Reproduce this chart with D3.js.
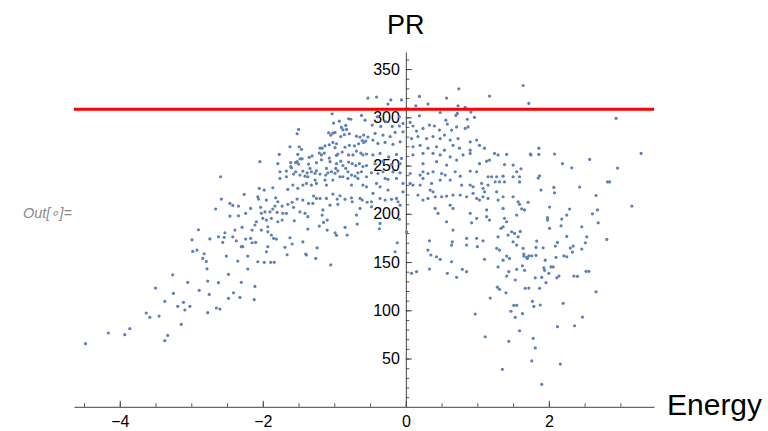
<!DOCTYPE html>
<html><head><meta charset="utf-8">
<script src="https://cdn.jsdelivr.net/npm/d3@7"></script>
<style>body{margin:0;background:#fff}svg{display:block}</style>
</head><body><svg id="c" width="768" height="431"></svg>
<script>
const energy = [
-0.53,-1.03,-0.93,-0.80,-0.77,-0.62,-0.57,-1.50,-1.52,-1.01,-0.90,-0.84,-0.88,-0.83,-1.08,-1.05,-1.02,-0.99,-0.91,-0.86,
-0.79,-0.69,-0.64,-0.59,-0.53,-1.07,-1.02,-0.97,-0.85,-0.79,-0.72,-0.66,-0.61,-0.59,-0.56,-1.62,-1.49,-1.46,-1.20,-1.17,
-1.13,-0.99,-1.77,-1.51,-1.48,-1.45,-1.35,-1.31,-1.21,-1.18,-1.14,-1.07,-0.97,-0.95,-0.89,-0.80,-0.74,-0.69,-0.63,-0.60,
-0.55,-2.04,-1.79,-1.61,-1.54,-1.52,-1.61,-1.50,-1.36,-1.25,-1.18,-1.06,-0.97,-0.91,-0.88,-0.80,-0.75,-0.70,-0.65,-0.60,
-0.55,-1.60,-1.34,-1.11,-0.98,-0.84,
-0.41,-0.25,-0.21,-0.06,0.19,0.31,0.14,0.57,0.74,0.73,0.83,1.17,0.19,0.48,0.56,0.58,0.70,0.72,0.91,0.96,
0.86,-0.40,-0.28,-0.09,-0.04,-0.47,-0.35,-0.19,-0.09,0.06,0.10,0.15,0.24,0.33,0.40,0.47,0.54,0.64,0.71,0.83,
0.87,-0.43,-0.32,-0.22,-0.15,-0.04,-0.46,-0.39,-0.29,-0.18,-0.08,0.08,0.17,0.29,0.38,0.48,0.62,0.73,0.90,0.99,
0.10,0.20,0.31,0.43,0.54,0.66,0.75,0.90,1.03,1.10,0.10,0.24,0.38,0.48,0.62,0.80,0.90,0.24,0.43,0.57,
0.71,1.03,1.13,1.17,1.24,1.29,1.41,1.38,1.50,-0.46,-0.36,-0.24,-0.13,-0.06,-0.43,-0.32,-0.20,-0.08,
1.64,1.72,2.94,1.86,1.74,1.75,1.86,2.08,2.19,2.32,2.57,3.29,2.96,1.61,
1.87,1.85,1.59,1.59,2.07,2.08,2.43,2.82,2.85,1.89,2.66,1.71,1.59,1.62,1.66,2.01,2.29,3.16,2.68,2.61,
2.25,1.98,1.98,2.18,2.69,2.17,2.01,2.46,1.60,2.25,2.53,2.81,1.83,2.12,2.51,2.09,2.34,1.64,1.82,1.92,
2.30,2.46,2.33,1.65,1.65,1.69,1.70,1.72,1.76,1.82,2.21,2.25,2.10,1.95,1.63,2.03,2.06,1.93,1.94,1.66,
2.00,2.14,2.11,2.35,2.40,2.52,2.56,1.81,1.90,1.96,
1.67,1.72,1.87,2.66,1.77,1.79,1.88,2.20,1.63,2.47,1.59,2.12,2.36,1.78,1.81,1.76,2.16,1.90,
1.28,1.31,1.40,1.18,1.51,1.55,1.47,0.97,1.53,1.11,1.44,1.35,
-2.11,-2.41,-2.48,-2.32,-2.12,-2.60,
-3.50,-3.25,-2.89,-2.75,-3.37,-3.11,-3.19,-3.02,-3.09,-3.63,-3.58,-3.45,-2.77,-2.65,-3.14,-3.86,-4.16,-3.93,-3.33,-3.37,-4.48,
-2.66,-2.90,-2.62,-2.99,-2.74,-2.92,-2.98,-2.82,-2.84,-2.79,-2.78,-3.26,-3.05,-2.77,-2.62,
-1.76,-1.67,-1.57,-1.54,-1.48,-1.44,-1.41,-1.38,-1.37,-1.32,-1.27,-1.25,-1.20,-1.12,-1.09,-1.04,-0.99,-0.95,-0.88,-0.81,
-0.76,-0.71,-0.67,-0.62,-0.55,-2.59,-1.76,-1.67,-1.58,-1.51,-1.44,-1.39,-1.32,-1.27,-1.25,-1.13,-1.11,-1.02,-0.92,-0.81,
-0.76,-0.67,-0.60,-0.55,-2.05,-1.98,-1.86,-1.65,-2.26,-2.07,-2.06,-1.82,-1.52,-1.44,-1.36,-1.30,-1.29,-1.25,-1.20,-1.11,
-1.02,-0.96,-0.92,-0.85,-0.76,-0.75,-0.64,-0.61,-0.54,-2.58,-2.46,-2.42,-2.34,-2.17,-2.24,-2.03,-1.95,-1.83,-1.79,-1.73,
-1.65,-1.59,-1.57,-1.48,-1.41,-1.37,-1.16,-1.17,-1.10,-1.06,-0.95,-0.69,-0.68,-0.64,-2.02,-1.97,-1.90,-1.86,-1.80,-1.72,
-1.67,-2.46,-2.34,-2.09,-2.11,-2.00,-1.95,-1.88,-1.79,-1.73,-1.56,-1.37,-1.21,-1.15,-1.10,-0.99,-0.97,-0.85,-0.82,-2.53,
-2.54,-2.56,-2.39,-2.29,-2.15,-2.42,-2.37,-2.24,-2.17,-2.15,-2.10,-2.02,-1.93,-1.93,-1.88,-1.85,-1.81,-1.62,-1.44,-1.59,
-1.69,-1.93,-1.95,-2.30,-2.28,-1.24,-2.51,-2.35,-2.21,-2.21,-2.07,-1.98,-1.89,-1.84,-1.66,-1.40,-1.39,-1.26,-1.05,-2.48,
-2.30,
-0.48,-0.39,-0.32,-0.18,-0.08,0.06,0.20,0.24,0.31,0.38,0.50,0.55,0.69,0.76,0.90,0.99,1.15,1.20,1.27,1.36,
1.50,1.55,-0.41,-0.36,-0.29,-0.25,-0.13,-0.04,0.06,0.10,0.20,0.24,0.36,0.34,0.38,0.48,0.62,0.78,0.90,0.94,
1.06,1.08,1.15,1.25,1.31,1.38,-0.46,-0.25,-0.04,0.17,0.24,0.31,0.41,0.50,0.57,0.66,0.76,0.85,0.94,0.99,
1.03,1.08,1.10,1.27,1.15,1.29,1.36,1.50,1.57,-0.36,-0.13,-0.08,-0.48,0.41,0.45,0.62,0.66,0.90,0.92,0.99,
1.13,1.13,1.17,1.36,1.38,1.41,1.55,0.57,0.66,0.65,0.64,0.33,0.31,0.35,0.43,0.48,0.64,0.85,0.85,0.99,
1.00,1.08,1.29,1.33,1.36,1.43,1.48,1.50,1.52,1.55,1.57,1.27,1.31,1.10,1.36,1.41,1.45,1.29,1.44,1.41,
1.55,1.53,-0.29,-0.20,-0.11,-0.48,-0.09,-0.36,-0.37,-0.15,-0.12,0.01,0.08,0.15,0.33,0.58,0.71,0.79,0.85
];
const pr = [
320,303.6,296,298.5,298,302,297,287.5,283,294,289.5,291.6,287,287.5,284,281.5,283.6,284.4,280,282,
283,280.5,279.5,281.6,279.5,271.5,274,272.6,269,271,270.5,272.6,276,274,275.4,269.5,269.5,266.8,268,268,
270.5,268.5,261.6,261.6,257,257,258.5,260,263,261,263,257.8,260.5,262,264,261,261,265,263,261,
262,254,252,253,253,254,249,251.5,251.5,253,256,254,252,254.6,250,253.6,252,250,252,249,
250,247.7,247,247,247,247,
321,313.7,318,318,321.7,313.7,312,320,329.5,312,310.3,322,301.6,305,297,293,302,304,305.4,300,
298,300.5,295.4,300.5,293.7,292,290.6,290.6,291,294.7,291,285.7,288.5,292,291,286.8,281.6,286.8,290,288.5,
290,283.3,281.6,280,284.4,285,276.4,273,274,272,274.6,278,280,278,280,278,276.4,278,274.6,276.4,
269.5,271,268,269.5,266,271,268,266,271,268,261,262.6,262.6,261,259,261,262.6,252,254,250.5,
255.7,252,254.6,255.7,262.6,261,261.6,251,250.5,261,262.6,259,261.6,257.4,252,254,251,252,
333,314.4,299,268,262,261,261.6,262,252,247.7,256.4,262.6,247.4,246.7,
239.4,237,238.4,233,227.4,221.8,227.7,233,233,224.6,219,212,209.8,205.2,204,207,205,208,204,200,
198.7,196,193.5,194.6,190.7,187.6,185,186.6,181.8,176.6,176.2,173.5,171.8,170.4,170,166.6,166.6,164.2,165.2,164.8,
164.5,163.5,160.4,158.3,156.2,154.9,153.8,156.5,156.5,157,156.5,155.5,154.9,152,146.2,145,145,144,141.4,141.4,
138.3,135.5,133.7,135.5,135.2,140.4,140.4,133.7,134.2,128.6,
122.8,123,122.8,119.2,109.3,104,105.5,107.2,96.5,93,78.8,83,84,71,61,47.5,44.3,23.3,
124,121.7,118.2,112.7,105.2,105.2,99,96.1,92.7,72.6,67.9,38.8,
124.8,118.2,112.4,113.4,111,101.3,
123,117.6,120.7,116.5,109.3,108.3,104.1,104.1,100.3,97.2,92.7,94,97.5,102.4,85.5,81,76.5,74.7,74,68.5,65.4,
205,183.5,176.2,173,174,162.4,161,158.6,153.8,150.7,143,136.8,129,130.3,128.6,
243.6,244.3,241.2,243.6,240.2,244.3,239,242.5,238.4,243.6,242,244.6,241.2,240.2,242.5,243.6,242,244.6,238.4,243.6,
240.2,239,242.5,243.6,238.4,238.4,236.7,238.4,229.8,226.4,229.8,231.5,229.8,235,231.5,235,229.8,235,238.4,236.7,
229.8,236.7,229.8,228,226.4,224.6,227,225.3,220.2,217.7,215.3,216.6,215.3,214.2,210.8,210.8,218.4,216,216,216,
220.5,215.3,218.7,215,216.6,212.5,216,214.2,212,215.3,210.8,208.7,208,205.6,200.5,206.7,214.2,208,212.5,208,
209.8,212,206.7,202,200.5,197,204,198.7,193.5,209,209.8,198.7,189.4,205.6,200.5,202,202,205,201.5,200.5,
200.5,197.7,198,191.8,188.4,195.3,193.5,195.3,191.8,193.5,192.8,184.2,187.3,191.1,183.2,180.4,177.7,186,178,180.4,
175.6,170.4,183.2,186,183.2,176.2,172,173.8,174.6,170,170.4,183.2,181.4,186.6,178,174.6,173.8,175.2,171,168.7,
165.3,165.9,160.7,165.9,165.9,164.8,156.2,151,156.2,142.8,150.3,149.7,149.7,149.7,157.6,158.3,157.3,153.8,147,137.3,
129,
242.5,241.8,243.6,243.6,242.5,241.8,240.2,243.6,241.8,243.6,241.8,240.2,243.6,239,244.3,243.6,238.4,238.4,238.4,239,
238.4,243.6,231.5,228,236.7,235.7,236.7,231.5,231.5,229.8,229.8,236.7,231.5,224.6,222.8,235,235,229.8,229.8,228,
231.5,226.4,229.8,233.2,233.2,233.2,221.2,224.6,222.8,219.4,214.2,216,217.7,217.7,218.4,219.4,219.4,217.7,221.2,216,
214.2,217.7,222.8,222.8,216,214.2,217.7,217.7,212.5,216,216,209,212.5,205.6,200.5,209,205.6,200.5,190.7,195.3,
204,197,193.5,205.6,195.3,191.8,198.7,191.8,183.2,171,167.6,172,162.4,157.3,155.5,152.8,150.3,174.6,167.6,174.6,
165.9,172,176.2,185,186.6,178,181.4,171,179.7,167.6,176.2,164.2,162.4,152.8,152,156.2,153.8,145,140,135.5,
142.5,131.4,214.2,215,212.5,207.3,194.3,190,184.5,160.7,170,181.4,138.3,140,142.8,138.3,134.2,142.5,140
];
const xTicks = [-4,-2,0,2];
const yTicks = [50,100,150,200,250,300,350];
const threshold = [308.3];
const xLabel = "Energy", yLabel = "PR", outLabel = "Out[\u2218]=";

const svg = d3.select("#c");
const x = d3.scaleLinear().domain([-4.64,3.47]).range([74,654]);
const y = d3.scaleLinear().domain([0,367.7]).range([406.8,52]);
const font = "'Liberation Sans', Arial, sans-serif";

// minor ticks
svg.append("g").attr("transform",`translate(0,${y(0)})`)
  .call(d3.axisBottom(x).tickValues(d3.range(-4.5,3.5,0.5)).tickSize(-3.5).tickSizeOuter(0).tickFormat(""))
  .call(g=>{g.select(".domain").remove();g.selectAll("line").attr("stroke","#555");});
svg.append("g").attr("transform",`translate(${x(0)},0)`)
  .call(d3.axisLeft(y).tickValues(d3.range(10,370,10)).tickSize(-3.5).tickSizeOuter(0).tickFormat(""))
  .call(g=>{g.select(".domain").remove();g.selectAll("line").attr("stroke","#555");});

// major
const xa = svg.append("g").attr("transform",`translate(0,${y(0)})`)
  .call(d3.axisBottom(x).tickValues(xTicks).tickSize(-6).tickSizeOuter(0).tickPadding(9));
xa.select(".domain").attr("stroke","#444");
xa.selectAll("line").attr("stroke","#444");
xa.selectAll("text").attr("font-family",font).attr("font-size",16).attr("fill","#000");
const ya = svg.append("g").attr("transform",`translate(${x(0)},0)`)
  .call(d3.axisLeft(y).tickValues(yTicks).tickSize(-6).tickSizeOuter(0).tickPadding(6));
ya.select(".domain").attr("stroke","#444");
ya.selectAll("line").attr("stroke","#444");
ya.selectAll("text").attr("font-family",font).attr("font-size",16).attr("fill","#000");

// points
svg.append("g").selectAll("circle").data(d3.range(energy.length)).join("circle")
  .attr("cx",i=>x(energy[i])).attr("cy",i=>y(pr[i])).attr("r",1.6).attr("fill","#5E81B5");

// red line
svg.selectAll(".thr").data(threshold).join("line").attr("class","thr")
  .attr("x1",x.range()[0]).attr("x2",x.range()[1]).attr("y1",d=>y(d)).attr("y2",d=>y(d))
  .attr("stroke","#ff0000").attr("stroke-width",3);

svg.append("text").attr("x",x(0)).attr("y",34).attr("text-anchor","middle")
  .attr("font-family",font).attr("font-size",27).text(yLabel);
svg.append("text").attr("x",667).attr("y",415).attr("font-family",font).attr("font-size",30).text(xLabel);
svg.append("text").attr("x",23).attr("y",218).attr("font-family",font).attr("font-style","italic")
  .attr("font-size",14.5).attr("fill","#8c8c8c").text(outLabel);
</script></body></html>
